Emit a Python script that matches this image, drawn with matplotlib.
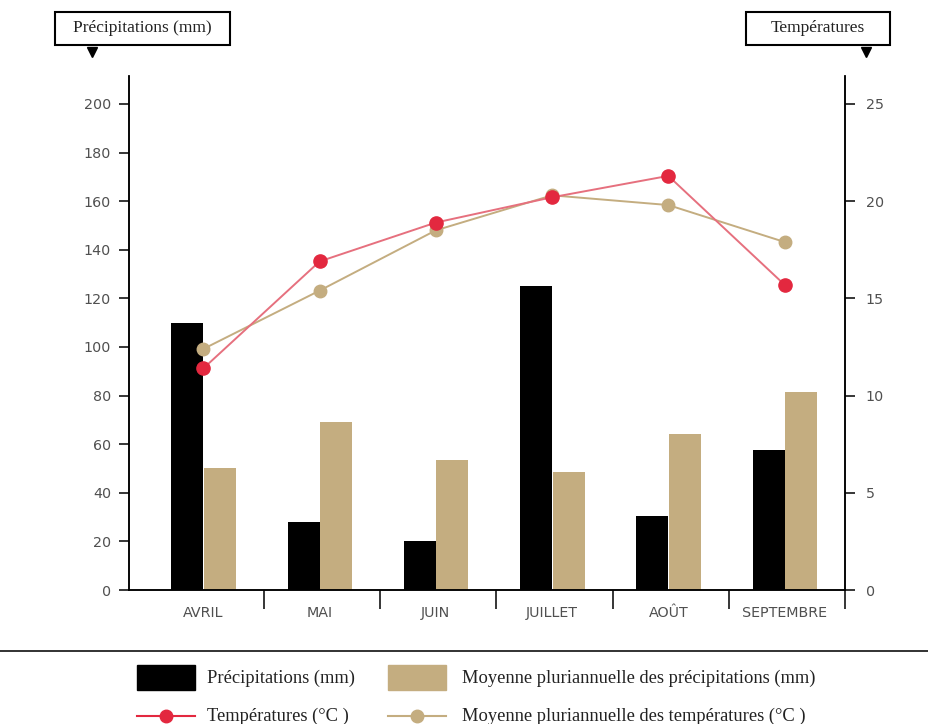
import matplotlib.pyplot as plt
from matplotlib.patches import Rectangle
from matplotlib.lines import Line2D
import numpy as np

# données
mois = ["AVRIL", "MAI", "JUIN", "JUILLET", "AOÛT", "SEPTEMBRE"]
precip = [110, 28, 20, 125, 30.5, 57.5]
precip_moy = [50, 69, 53.5, 48.5, 64, 81.5]
temp = [11.4, 16.9, 18.9, 20.2, 21.3, 15.7]
temp_moy = [12.4, 15.4, 18.5, 20.3, 19.8, 17.9]

noir = "#000000"
beige = "#c4ad80"
rouge = "#e3283f"
rouge_ligne = "#e6707e"
gris = "#505050"
serif = "Liberation Serif"
sans = "DejaVu Sans"

fig = plt.figure(figsize=(9.29, 7.24), dpi=100)
ax = fig.add_axes([129 / 929, 1 - 590 / 724, (845 - 129) / 929, (590 - 76) / 724])
ax2 = ax.twinx()

x = np.arange(len(mois))
w = 0.275
ax.bar(x - w / 2, precip, width=w, color=noir, zorder=2)
ax.bar(x + w / 2 + 0.005, precip_moy, width=w, color=beige, zorder=2)

ax2.plot(x, temp_moy, color=beige, lw=1.4, marker="o", ms=9, zorder=3)
ax2.plot(x, temp, color=rouge_ligne, lw=1.4, marker="o", ms=9.5,
         markerfacecolor=rouge, markeredgecolor=rouge, zorder=4)

ax.set_xlim(-0.64, 5.52)
ax.set_ylim(0, 211.5)
ax2.set_ylim(0, 211.5 / 8)
ax.set_yticks(range(0, 201, 20))
ax2.set_yticks(range(0, 26, 5))

ax.set_xticks(x)
ax.set_xticklabels(mois, va="baseline")
ax.set_xticks(x + 0.52, minor=True)
ax.tick_params(axis="x", which="major", length=0, pad=19.5, labelsize=10.3, labelcolor=gris)
ax.tick_params(axis="x", which="minor", length=14, width=1.1, direction="out")
ax.tick_params(axis="y", length=7, width=1.1, pad=6, labelsize=10.3, labelcolor=gris)
ax2.tick_params(axis="y", length=7, width=1.1, pad=8, labelsize=10.3, labelcolor=gris)
for lab in ax.get_xticklabels() + ax.get_yticklabels() + ax2.get_yticklabels():
    lab.set_fontfamily(sans)

for a in (ax, ax2):
    a.spines["top"].set_visible(False)
    for s in ("left", "right", "bottom"):
        a.spines[s].set_linewidth(1.1)
ax.set_zorder(ax2.get_zorder() - 1)
ax.patch.set_visible(False)


def fx(px):
    return px / 929


def fy(py):
    return 1 - py / 724


# étiquettes des axes en boîte
for (x0, x1, xt, label) in [(55, 230, 92, "Précipitations (mm)"),
                            (746, 890, 866, "Températures")]:
    fig.add_artist(Rectangle((fx(x0), fy(45)), fx(x1) - fx(x0), fy(12) - fy(45),
                             fc="white", ec="black", lw=1.5))
    fig.text(fx((x0 + x1) / 2), fy(28.5), label, ha="center", va="center",
             family=serif, fontsize=12.5, color="#222222")
    fig.add_artist(Line2D([fx(xt)], [fy(52)], marker="v", ms=7, color="black"))

# séparateur + légende
fig.add_artist(Line2D([0, 1], [fy(651)] * 2, color="#222222", lw=1.3))

fig.add_artist(Rectangle((fx(137), fy(690)), fx(195) - fx(137), fy(665) - fy(690), color=noir))
fig.add_artist(Rectangle((fx(388), fy(690)), fx(446) - fx(388), fy(665) - fy(690), color=beige))
fig.add_artist(Line2D([fx(137), fx(166), fx(195)], [fy(716)] * 3, color=rouge, lw=1.5,
                      marker="o", ms=9, markevery=[1]))
fig.add_artist(Line2D([fx(388), fx(417), fx(446)], [fy(716)] * 3, color=beige, lw=1.5,
                      marker="o", ms=9, markevery=[1]))

leg_txt = dict(family=serif, fontsize=13.3, va="center", ha="left", color="#222222")
fig.text(fx(207), fy(678), "Précipitations (mm)", **leg_txt)
fig.text(fx(462), fy(678), "Moyenne pluriannuelle des précipitations (mm)", **leg_txt)
fig.text(fx(207), fy(716), "Températures (°C )", **leg_txt)
fig.text(fx(462), fy(716), "Moyenne pluriannuelle des températures (°C )", **leg_txt)

fig.savefig("out.png", dpi=100)
